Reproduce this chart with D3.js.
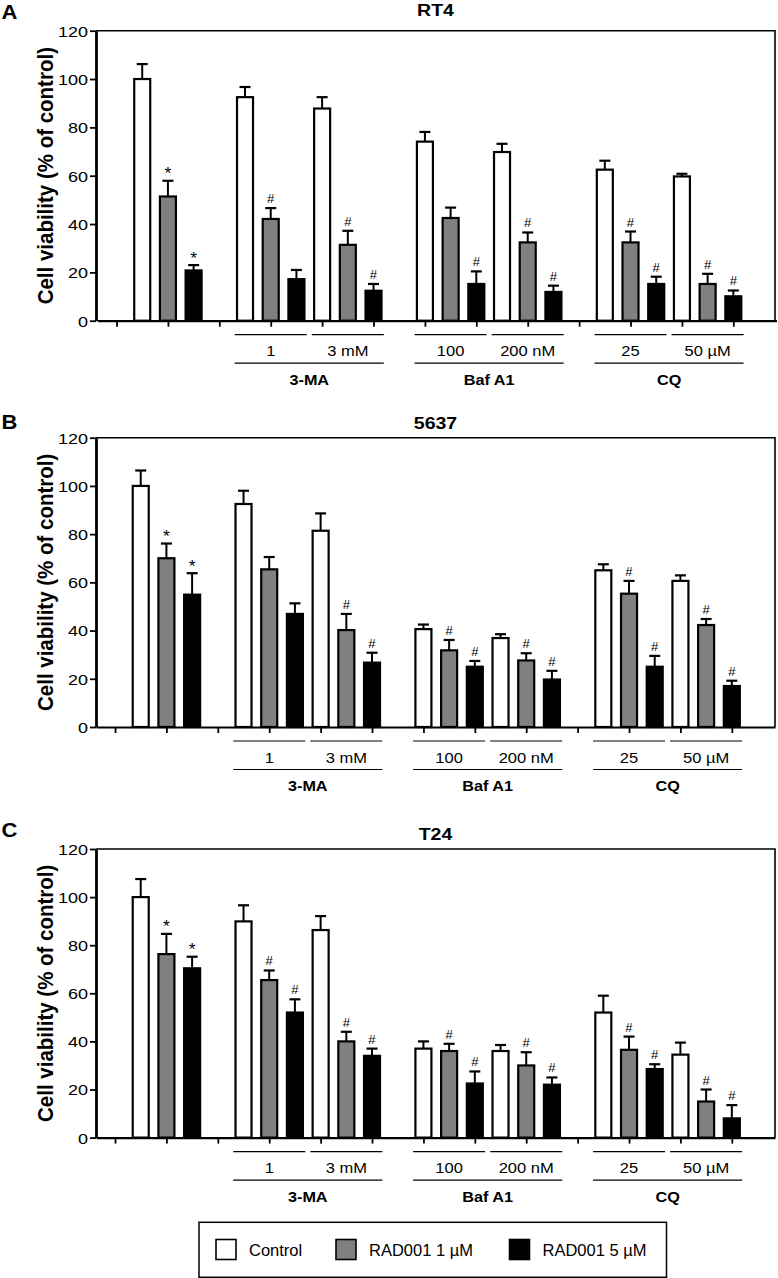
<!DOCTYPE html>
<html><head><meta charset="utf-8">
<script src="https://cdn.jsdelivr.net/npm/d3@7"></script>
<style>body{margin:0;background:#fff}svg{display:block}text{font-family:"Liberation Sans",Arial,sans-serif}</style>
</head><body>
<script>
// ---------- data ----------
const drugs = ["", "3-MA", "Baf A1", "CQ"];
const doses = [[""], ["1", "3 mM"], ["100", "200 nM"], ["25", "50 µM"]];
const seriesNames = ["Control", "RAD001 1 µM", "RAD001 5 µM"];
const seriesColors = ["#ffffff", "#808080", "#000000"];
const yTicks = [0, 20, 40, 60, 80, 100, 120];
const panelLetters = ["A", "B", "C"];
const cellLines = ["RT4", "5637", "T24"];

// RT4
const rt4Control = [100, 92.5, 87.8, 74.1, 69.8, 62.5, 59.7];
const rt4ControlErr = [6.2, 4.2, 4.7, 4.0, 3.4, 3.7, 1.1];
const rt4Rad1 = [51.4, 42.1, 31.4, 42.5, 32.4, 32.4, 15.2];
const rt4Rad1Err = [6.5, 4.5, 5.8, 4.3, 4.1, 4.5, 4.2];
const rt4Rad5 = [20.8, 17.2, 12.4, 15.2, 11.9, 15.2, 10.1];
const rt4Rad5Err = [2.2, 3.8, 2.8, 5.2, 2.6, 3.0, 2.4];
const rt4Rad1Sig = ["*", "#", "#", "", "#", "#", "#"];
const rt4Rad5Sig = ["*", "", "#", "#", "#", "#", "#"];

// 5637
const c5637Control = [100, 92.5, 81.4, 40.6, 36.9, 65.0, 60.6];
const c5637ControlErr = [6.4, 5.5, 7.2, 1.9, 1.6, 2.5, 2.3];
const c5637Rad1 = [70.0, 65.4, 40.2, 31.8, 27.6, 55.3, 42.3];
const c5637Rad1Err = [6.1, 5.1, 6.7, 4.3, 3.0, 5.3, 2.5];
const c5637Rad5 = [54.9, 46.9, 26.7, 25.0, 19.7, 25.0, 17.0];
const c5637Rad5Err = [8.9, 4.4, 4.1, 2.4, 3.6, 4.5, 2.2];
const c5637Rad1Sig = ["*", "", "#", "#", "#", "#", "#"];
const c5637Rad5Sig = ["*", "", "#", "#", "#", "#", "#"];

// T24
const t24Control = [100, 89.9, 86.3, 37.0, 36.0, 52.0, 34.5];
const t24ControlErr = [7.5, 6.7, 5.8, 3.0, 2.5, 7.0, 5.0];
const t24Rad1 = [76.3, 65.5, 40.0, 36.0, 30.0, 36.5, 15.0];
const t24Rad1Err = [8.4, 4.0, 4.0, 3.0, 5.5, 5.5, 5.0];
const t24Rad5 = [70.4, 52.0, 34.0, 22.5, 22.0, 28.5, 8.0];
const t24Rad5Err = [4.8, 5.5, 3.0, 5.0, 3.0, 2.0, 5.5];
const t24Rad1Sig = ["*", "#", "#", "#", "#", "#", "#"];
const t24Rad5Sig = ["*", "#", "#", "#", "#", "#", "#"];

const panelsData = [
  {values:[rt4Control, rt4Rad1, rt4Rad5], errs:[rt4ControlErr, rt4Rad1Err, rt4Rad5Err], sigs:[null, rt4Rad1Sig, rt4Rad5Sig]},
  {values:[c5637Control, c5637Rad1, c5637Rad5], errs:[c5637ControlErr, c5637Rad1Err, c5637Rad5Err], sigs:[null, c5637Rad1Sig, c5637Rad5Sig]},
  {values:[t24Control, t24Rad1, t24Rad5], errs:[t24ControlErr, t24Rad1Err, t24Rad5Err], sigs:[null, t24Rad1Sig, t24Rad5Sig]}
];

// ---------- layout ----------
const W = 778, H = 1278;
const plotLeft = 96, plotRight = 775;
const panelTops = [30.7, 437.7, 849];
const panelBottoms = [320.7, 727, 1137.6];
const panelShift = [1.5, 0, 0];
const titleBase = [15.5, 428.5, 839.5];
const letterBase = [18.5, 428.5, 837];

const svg = d3.select("body").append("svg").attr("width", W).attr("height", H);

function stext(g, x, y, str, opts) {
  return g.append("text")
    .attr("transform", `translate(${x},${y}) scale(${opts.sx},1)`)
    .attr("font-size", opts.size)
    .attr("font-weight", opts.bold ? "bold" : "normal")
    .attr("text-anchor", opts.anchor || "start")
    .attr("fill", "#000")
    .text(str);
}

// slot layout derived from group structure
const conditions = [];
let slot = 0;
drugs.forEach((d, di) => {
  slot += 1;
  doses[di].forEach((dose, k) => {
    conditions.push({drug: di, dose: k, start: slot});
    slot += 3;
  });
});
const barW = 16;

panelsData.forEach((pd, pi) => {
  const top = panelTops[pi], bot = panelBottoms[pi];
  const x = d3.scaleLinear().domain([-0.74, 25.68])
    .range([plotLeft + panelShift[pi], plotRight + panelShift[pi]]);
  const y = d3.scaleLinear().domain([0, 120]).range([bot, top]);
  const g = svg.append("g");

  // frame (top & right)
  g.append("path")
    .attr("d", `M${plotLeft},${top}H${plotRight}V${bot}`)
    .attr("fill", "none").attr("stroke", "#000").attr("stroke-width", 1.6);

  // bars
  pd.values.forEach((vals, si) => {
    vals.forEach((v, ci) => {
      const cx = x(conditions[ci].start + si);
      const e = pd.errs[si][ci];
      const yt = y(v + e);
      g.append("line").attr("x1", cx).attr("x2", cx).attr("y1", y(v)).attr("y2", yt)
        .attr("stroke", "#000").attr("stroke-width", 2);
      g.append("line").attr("x1", cx - 5.5).attr("x2", cx + 5.5).attr("y1", yt).attr("y2", yt)
        .attr("stroke", "#000").attr("stroke-width", 2.2);
      g.append("rect").attr("x", cx - barW / 2).attr("y", y(v)).attr("width", barW)
        .attr("height", y(0) - y(v)).attr("fill", seriesColors[si])
        .attr("stroke", "#000").attr("stroke-width", 2.2);
      const sig = pd.sigs[si] ? pd.sigs[si][ci] : "";
      if (sig) {
        if (sig === "*") stext(g, cx, yt - 1.5, sig, {size: 16, anchor: "middle", sx: 1.1});
        else stext(g, cx, yt - 5, sig, {size: 12.5, anchor: "middle", sx: 1.05});
      }
    });
  });

  // y axis
  const ya = g.append("g").attr("transform", `translate(${plotLeft},0)`)
    .call(d3.axisLeft(y).tickValues(yTicks).tickSize(6).tickSizeOuter(0));
  ya.select(".domain").attr("stroke-width", 2.8);
  ya.selectAll(".tick line").attr("stroke-width", 1.8);
  ya.selectAll(".tick text").each(function() {
    d3.select(this).attr("x", null).attr("dy", "0.36em")
      .attr("transform", `translate(-8,0) scale(1.2,1)`)
      .attr("font-size", 15).attr("font-family", "Liberation Sans, Arial, sans-serif");
  });

  // x axis
  const xa = g.append("g").attr("transform", `translate(0,${bot})`)
    .call(d3.axisBottom(x).tickValues(d3.range(0, 25, 2)).tickFormat("").tickSize(6).tickSizeOuter(0));
  xa.select(".domain").attr("stroke-width", 2.2);
  xa.selectAll(".tick line").attr("stroke-width", 1.8);

  // dose & drug labels
  drugs.forEach((d, di) => {
    if (!d) return;
    const conds = conditions.filter(c => c.drug === di);
    conds.forEach(c => {
      const cx = x(c.start + 1);
      g.append("line").attr("x1", cx - 36).attr("x2", cx + 36).attr("y1", bot + 14).attr("y2", bot + 14)
        .attr("stroke", "#000").attr("stroke-width", 1.2);
      stext(g, cx, bot + 35.5, doses[di][c.dose], {size: 14, anchor: "middle", sx: 1.18});
    });
    const x0 = x(conds[0].start + 1) - 36, x1 = x(conds[conds.length - 1].start + 1) + 36;
    g.append("line").attr("x1", x0).attr("x2", x1).attr("y1", bot + 42.5).attr("y2", bot + 42.5)
      .attr("stroke", "#000").attr("stroke-width", 1.2);
    stext(g, (x0 + x1) / 2, bot + 64, d, {size: 15, bold: true, anchor: "middle", sx: 1.08});
  });

  // y label
  g.append("text")
    .attr("transform", `translate(52.5,${(top + bot) / 2}) rotate(-90) scale(1,1.08)`)
    .attr("text-anchor", "middle").attr("font-size", 20.5).attr("font-weight", "bold")
    .text("Cell viability (% of control)");

  // title and panel letter
  stext(g, (plotLeft + plotRight) / 2, titleBase[pi], cellLines[pi], {size: 17, bold: true, anchor: "middle", sx: 1.15});
  stext(g, 1.5, letterBase[pi], panelLetters[pi], {size: 20, bold: true, sx: 1.1});
});

// legend
const lg = svg.append("g");
lg.append("rect").attr("x", 199).attr("y", 1222.3).attr("width", 467.5).attr("height", 55)
  .attr("fill", "none").attr("stroke", "#000").attr("stroke-width", 1.5);
const legendX = [216, 336, 509.5];
seriesNames.forEach((n, i) => {
  lg.append("rect").attr("x", legendX[i]).attr("y", 1239.5).attr("width", 20).attr("height", 20)
    .attr("fill", seriesColors[i]).attr("stroke", "#000").attr("stroke-width", 1.6);
  stext(lg, legendX[i] + 33, 1255.5, n, {size: 16.5, sx: 1.0});
});
</script>
</body></html>
